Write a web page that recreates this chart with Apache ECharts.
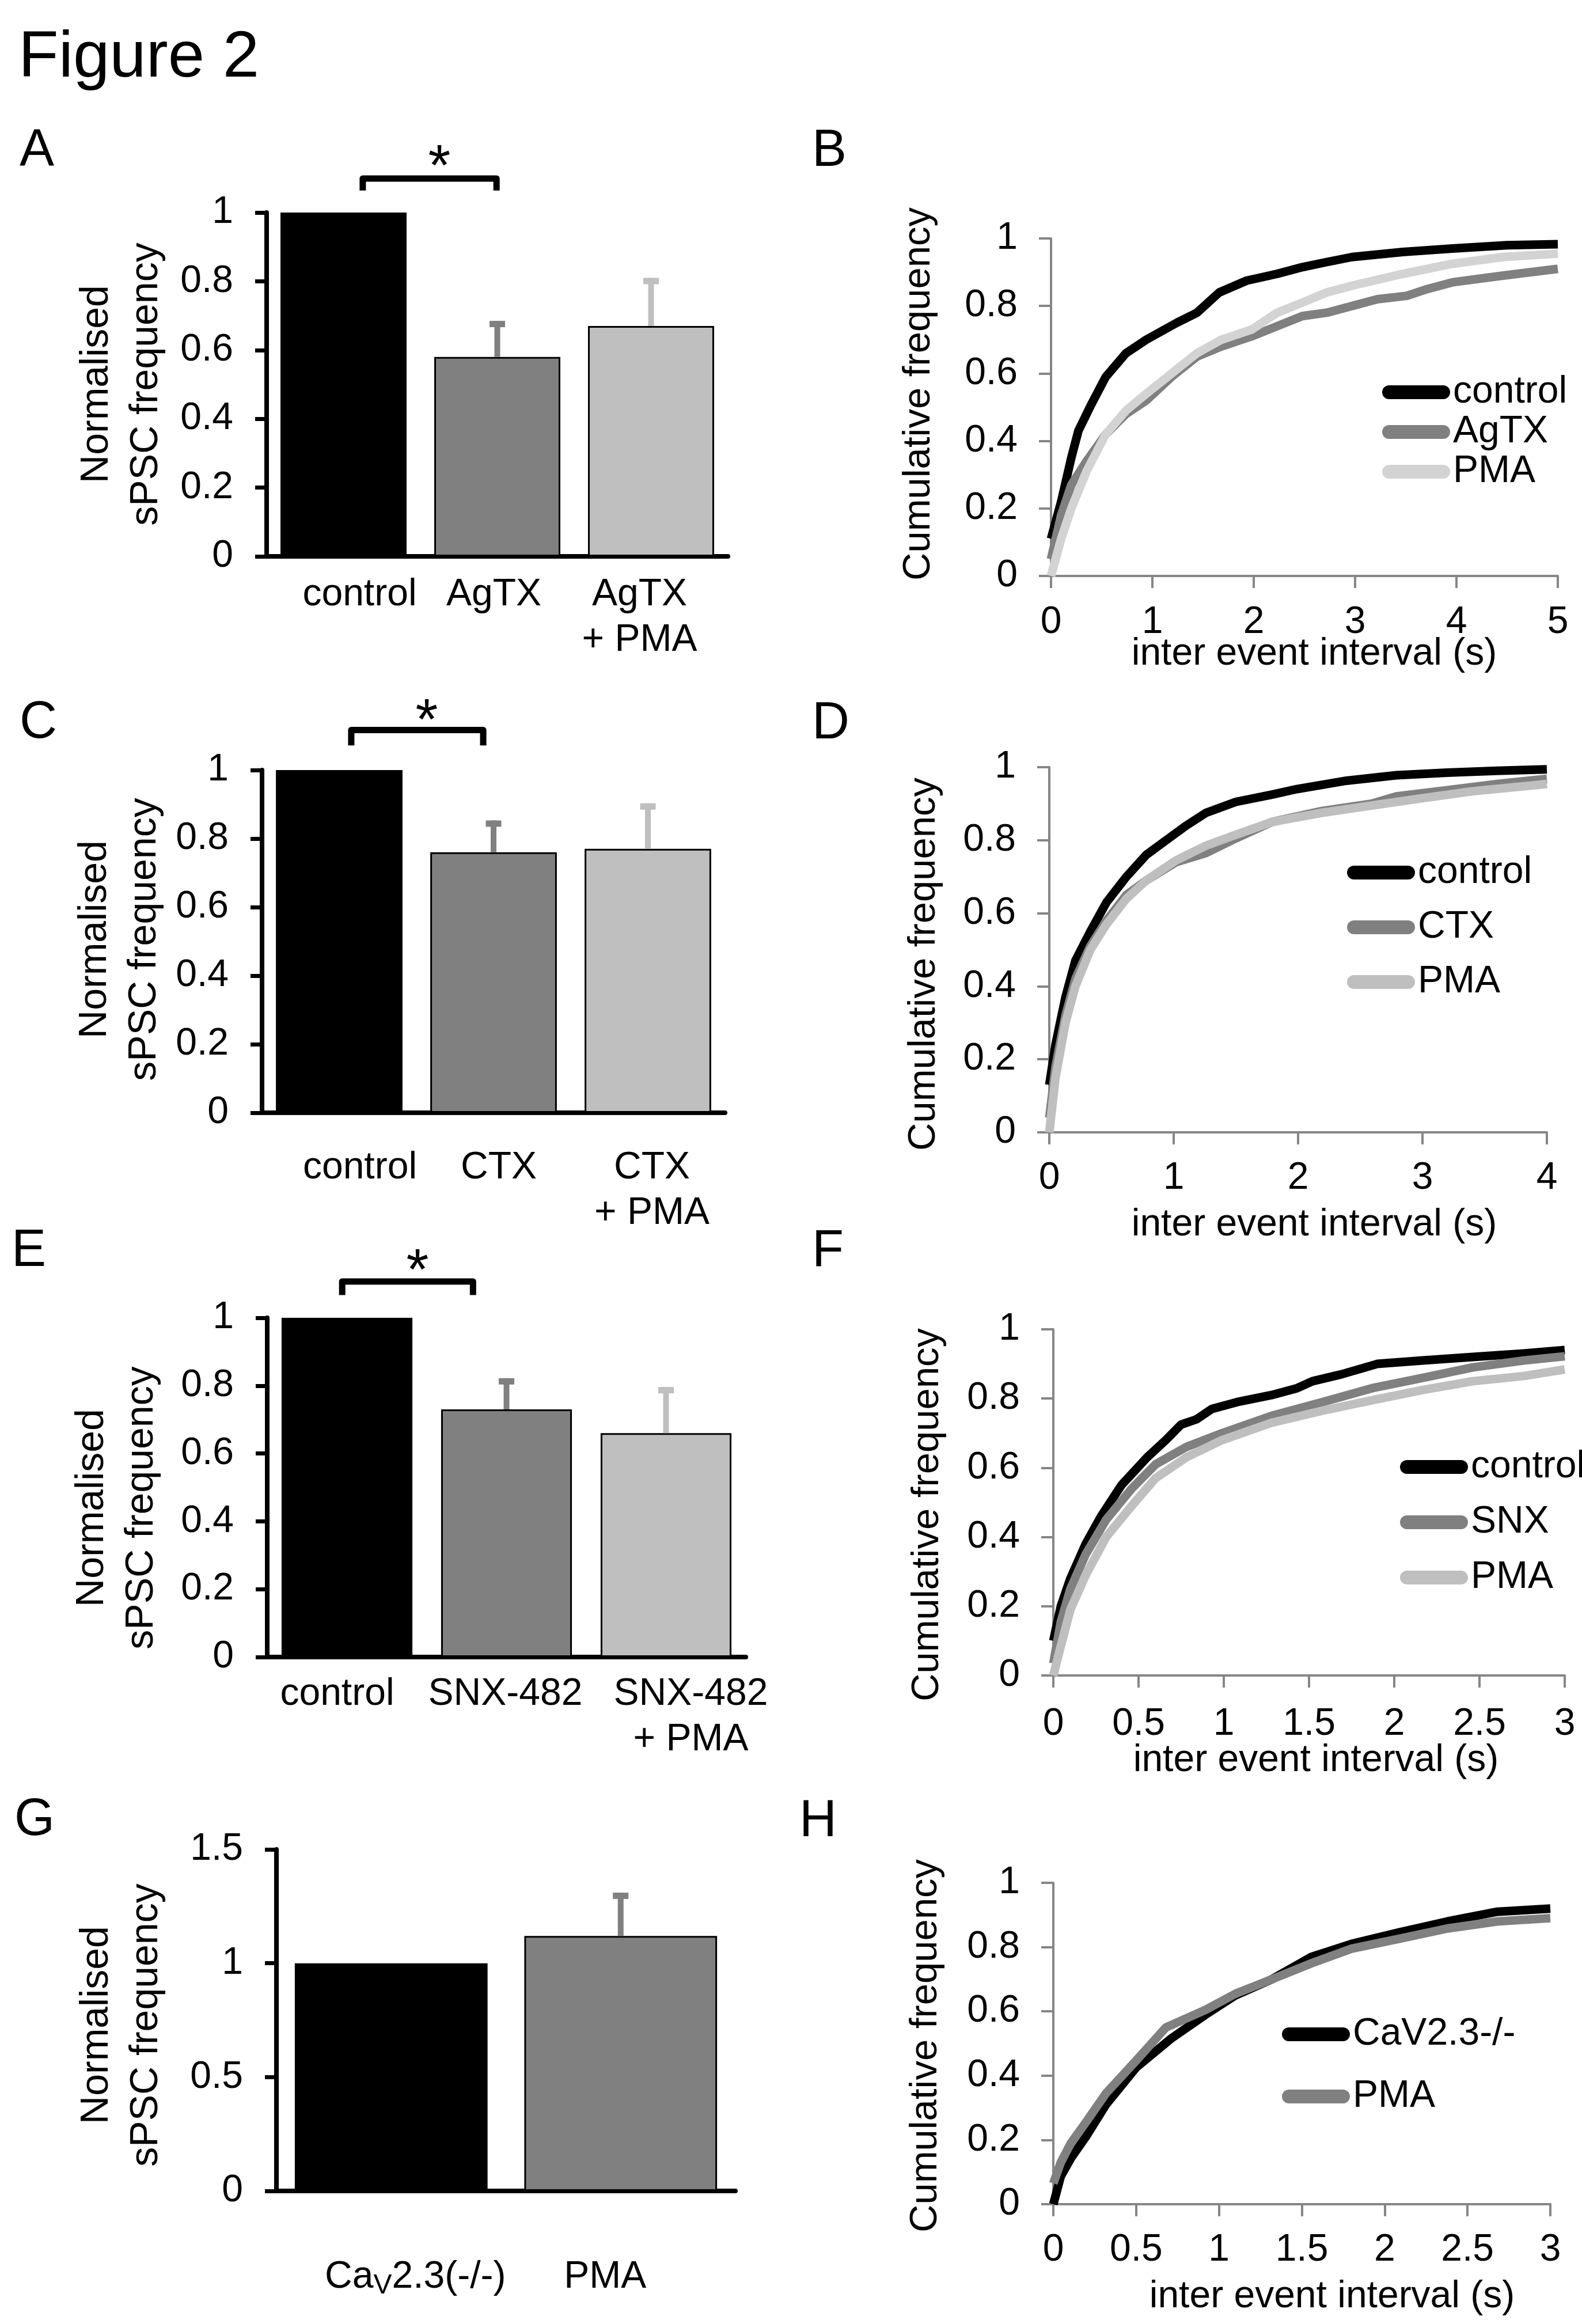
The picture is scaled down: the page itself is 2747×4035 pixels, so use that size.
<!DOCTYPE html>
<html>
<head>
<meta charset="utf-8">
<script src="https://cdn.jsdelivr.net/npm/echarts@6/dist/echarts.min.js"></script>
<style>
html,body{margin:0;padding:0;background:#fff;}
#chart{width:2747px;height:4035px;}
</style>
</head>
<body>
<div id="chart"></div>
<script>
// ================= DATA =================
// Bar panels (A, C, E, G)
const catsA = ['control', 'AgTX', 'AgTX\n+ PMA'];
const meansA = [1, 0.58, 0.67];
const errsA = [0, 0.105, 0.14];

const catsC = ['control', 'CTX', 'CTX\n+ PMA'];
const meansC = [1, 0.76, 0.77];
const errsC = [0, 0.093, 0.133];

const catsE = ['control', 'SNX-482', 'SNX-482\n+ PMA'];
const meansE = [1, 0.73, 0.66];
const errsE = [0, 0.092, 0.136];

const catsG = ['CaV2.3(-/-)', 'PMA'];
const meansG = [1, 1.12];
const errsG = [0, 0.19];

const barTicksY = [0, 0.2, 0.4, 0.6, 0.8, 1];
const barTicksYG = [0, 0.5, 1, 1.5];

// Cumulative panels (B, D, F, H)
const cumTicksY = [0, 0.2, 0.4, 0.6, 0.8, 1];
const ticksXB = [0, 1, 2, 3, 4, 5];
const ticksXD = [0, 1, 2, 3, 4];
const ticksXF = [0, 0.5, 1, 1.5, 2, 2.5, 3];
const ticksXH = [0, 0.5, 1, 1.5, 2, 2.5, 3];

const legendB = ['control', 'AgTX', 'PMA'];
const legendD = ['control', 'CTX', 'PMA'];
const legendF = ['control', 'SNX', 'PMA'];
const legendH = ['CaV2.3-/-', 'PMA'];

// B
const bControlX = [0, 0.1, 0.2, 0.27, 0.4, 0.54, 0.74, 0.94, 1.24, 1.44, 1.66, 1.93, 2.23, 2.48, 2.72, 2.97, 3.47, 3.96, 4.5, 5];
const bControlY = [0.11, 0.22, 0.35, 0.43, 0.51, 0.59, 0.66, 0.70, 0.75, 0.78, 0.84, 0.875, 0.895, 0.915, 0.93, 0.945, 0.96, 0.97, 0.98, 0.983];
const bAgtxX = [0, 0.1, 0.2, 0.35, 0.54, 0.74, 0.94, 1.19, 1.44, 1.68, 1.98, 2.23, 2.48, 2.72, 2.97, 3.22, 3.51, 3.71, 3.96, 4.46, 5];
const bAgtxY = [0.05, 0.18, 0.27, 0.34, 0.42, 0.48, 0.52, 0.59, 0.65, 0.68, 0.71, 0.74, 0.77, 0.78, 0.80, 0.82, 0.83, 0.85, 0.87, 0.89, 0.91];
const bPmaX = [0, 0.1, 0.2, 0.35, 0.54, 0.74, 0.94, 1.19, 1.44, 1.68, 1.98, 2.23, 2.48, 2.72, 2.97, 3.47, 3.96, 4.46, 5];
const bPmaY = [0.0, 0.11, 0.2, 0.31, 0.42, 0.49, 0.54, 0.60, 0.66, 0.70, 0.73, 0.78, 0.81, 0.84, 0.86, 0.895, 0.925, 0.945, 0.955];

// D
const dControlX = [0, 0.05, 0.13, 0.21, 0.33, 0.46, 0.62, 0.78, 0.94, 1.1, 1.26, 1.5, 1.79, 1.99, 2.39, 2.79, 3.2, 3.6, 4];
const dControlY = [0.13, 0.24, 0.37, 0.47, 0.55, 0.63, 0.70, 0.76, 0.80, 0.84, 0.875, 0.905, 0.925, 0.94, 0.963, 0.978, 0.985, 0.99, 0.994];
const dCtxX = [0, 0.05, 0.13, 0.21, 0.33, 0.46, 0.62, 0.78, 1.02, 1.26, 1.5, 1.79, 2.19, 2.59, 2.79, 3.2, 3.6, 4];
const dCtxY = [0.04, 0.18, 0.32, 0.42, 0.51, 0.58, 0.65, 0.69, 0.74, 0.765, 0.805, 0.85, 0.88, 0.90, 0.92, 0.937, 0.954, 0.968];
const dPmaX = [0, 0.05, 0.13, 0.21, 0.33, 0.46, 0.62, 0.78, 1.02, 1.26, 1.5, 1.79, 2.19, 2.59, 3.0, 3.4, 4];
const dPmaY = [0, 0.15, 0.30, 0.40, 0.50, 0.57, 0.64, 0.69, 0.745, 0.785, 0.815, 0.85, 0.875, 0.895, 0.915, 0.934, 0.954];

// F
const fControlX = [0, 0.044, 0.1, 0.19, 0.28, 0.4, 0.55, 0.66, 0.75, 0.84, 0.93, 1.08, 1.28, 1.43, 1.52, 1.69, 1.9, 2.17, 2.46, 2.76, 3];
const fControlY = [0.10, 0.20, 0.28, 0.38, 0.46, 0.55, 0.63, 0.68, 0.725, 0.74, 0.77, 0.79, 0.81, 0.83, 0.85, 0.87, 0.90, 0.91, 0.92, 0.93, 0.94];
const fSnxX = [0, 0.044, 0.1, 0.19, 0.31, 0.46, 0.6, 0.78, 0.99, 1.28, 1.58, 1.87, 2.17, 2.46, 2.76, 3];
const fSnxY = [0.035, 0.155, 0.25, 0.35, 0.45, 0.54, 0.61, 0.66, 0.70, 0.75, 0.79, 0.83, 0.86, 0.89, 0.91, 0.922];
const fPmaX = [0, 0.044, 0.1, 0.19, 0.31, 0.46, 0.6, 0.78, 0.99, 1.28, 1.58, 1.87, 2.17, 2.46, 2.76, 3];
const fPmaY = [0, 0.085, 0.19, 0.29, 0.40, 0.49, 0.57, 0.63, 0.68, 0.73, 0.765, 0.795, 0.825, 0.85, 0.865, 0.884];

// H
const hCavX = [0, 0.045, 0.106, 0.197, 0.318, 0.5, 0.71, 0.92, 1.1, 1.32, 1.56, 1.8, 2.08, 2.38, 2.68, 3];
const hCavY = [0.0, 0.087, 0.143, 0.21, 0.31, 0.425, 0.515, 0.59, 0.65, 0.70, 0.77, 0.81, 0.845, 0.88, 0.91, 0.92];
const hPmaX = [0, 0.045, 0.106, 0.197, 0.318, 0.5, 0.68, 0.92, 1.1, 1.32, 1.56, 1.8, 2.08, 2.38, 2.68, 3];
const hPmaY = [0.065, 0.13, 0.19, 0.255, 0.345, 0.447, 0.55, 0.605, 0.655, 0.70, 0.75, 0.795, 0.825, 0.858, 0.88, 0.89];

// ================= STYLE / LAYOUT =================
const FONT = "'Liberation Sans', Arial, Helvetica, sans-serif";
const GRAY_AXIS = '#868686';
const barColors3 = ['#000000', '#808080', '#BFBFBF'];
const barColors2 = ['#000000', '#808080'];
const CAPSULE = 'path://M12,0H106A12,12,0,0,1,106,24H12A12,12,0,0,1,12,0Z';
const CURVE_W = 15;

const grids = [
  {left: 463, top: 369, width: 801, height: 597},   // 0 A
  {left: 1825, top: 414, width: 880, height: 586},  // 1 B
  {left: 455, top: 1337, width: 804, height: 595},  // 2 C
  {left: 1822, top: 1332, width: 864, height: 634}, // 3 D
  {left: 464, top: 2288, width: 831, height: 589},  // 4 E
  {left: 1829, top: 2308, width: 888, height: 601}, // 5 F
  {left: 480, top: 3211, width: 797, height: 593},  // 6 G
  {left: 1829, top: 3269, width: 863, height: 558}  // 7 H
];

function zip(xs, ys) { return xs.map((x, i) => [x, ys[i]]); }

function barXAxis(gi, cats, margin, shifts) {
  const rich = {
    sub: {fontSize: 48, lineHeight: 48, fontFamily: FONT, color: '#000', verticalAlign: 'bottom'},
    n: {fontSize: 66, lineHeight: 79, fontFamily: FONT, color: '#000'}
  };
  cats.forEach((c, i) => {
    const s = shifts[i];
    rich['t' + i] = {fontSize: 66, lineHeight: 79, fontFamily: FONT, color: '#000',
      padding: s >= 0 ? [0, 0, 0, 2 * s] : [0, -2 * s, 0, 0]};
  });
  return {
    type: 'category', gridIndex: gi, data: cats,
    axisLine: {show: true, lineStyle: {color: '#000', width: 8}},
    axisTick: {show: false},
    splitLine: {show: false},
    axisLabel: {
      interval: 0, margin: margin, fontSize: 66, lineHeight: 79, fontFamily: FONT, color: '#000',
      formatter: function (v, i) {
        return v.split('\n').map(function (line) {
          if (line.indexOf('CaV') === 0) {
            return '{t' + i + '|Ca}{sub|V}{n|' + line.slice(3) + '}';
          }
          return '{t' + i + '|' + line + '}';
        }).join('\n');
      },
      rich: rich
    }
  };
}

function barYAxis(gi, ticks) {
  return {
    type: 'value', gridIndex: gi, min: ticks[0], max: ticks[ticks.length - 1], interval: ticks[1] - ticks[0],
    axisLine: {show: true, lineStyle: {color: '#000', width: 8}},
    axisTick: {show: true, length: 20, lineStyle: {color: '#000', width: 7}},
    splitLine: {show: false},
    axisLabel: {margin: 58, fontSize: 66, fontFamily: FONT, color: '#000'}
  };
}

function cumXAxis(gi, ticks, margin) {
  return {
    type: 'value', gridIndex: gi, min: ticks[0], max: ticks[ticks.length - 1], interval: ticks[1] - ticks[0],
    axisLine: {show: true, onZero: false, lineStyle: {color: GRAY_AXIS, width: 4}},
    axisTick: {show: true, length: 21, lineStyle: {color: GRAY_AXIS, width: 4}},
    splitLine: {show: false},
    axisLabel: {margin: margin, fontSize: 66, lineHeight: 66, fontFamily: FONT, color: '#000'}
  };
}

function cumYAxis(gi, ticks) {
  return {
    type: 'value', gridIndex: gi, min: ticks[0], max: ticks[ticks.length - 1], interval: ticks[1] - ticks[0],
    axisLine: {show: true, onZero: false, lineStyle: {color: GRAY_AXIS, width: 4}},
    axisTick: {show: true, length: 21, lineStyle: {color: GRAY_AXIS, width: 4}},
    splitLine: {show: false},
    axisLabel: {margin: 58, fontSize: 66, fontFamily: FONT, color: '#000'}
  };
}

function barSeries(gi, means, colors, width) {
  return {
    type: 'bar', xAxisIndex: gi, yAxisIndex: gi, barWidth: width, silent: true,
    itemStyle: {borderColor: '#000', borderWidth: 3},
    data: means.map((v, i) => ({value: v, itemStyle: {color: colors[i]}}))
  };
}

function errSeries(gi, means, errs, colors) {
  const data = [];
  means.forEach((m, i) => { if (errs[i] > 0) data.push([i, m, m + errs[i]]); });
  return {
    type: 'custom', xAxisIndex: gi, yAxisIndex: gi, data: data, z: 5, clip: false, silent: true,
    renderItem: function (params, api) {
      const i = api.value(0);
      const p0 = api.coord([i, api.value(1)]);
      const p1 = api.coord([i, api.value(2)]);
      const c = colors[i];
      return {type: 'group', children: [
        {type: 'rect', shape: {x: p0[0] - 5, y: p1[1], width: 10, height: p0[1] - p1[1]}, style: {fill: c}},
        {type: 'rect', shape: {x: p1[0] - 13.5, y: p1[1], width: 27, height: 11}, style: {fill: c}}
      ]};
    }
  };
}

function sigSeries(gi, spec) {
  return {
    type: 'custom', xAxisIndex: gi, yAxisIndex: gi, data: [[0, 1]], z: 5, clip: false, silent: true,
    renderItem: function (params, api) {
      const band = api.size([1, 0])[0];
      const a = api.coord([api.value(0), spec.yTop]);
      const b = api.coord([api.value(1), spec.yTop]);
      const leg = api.coord([api.value(0), spec.yLeg])[1];
      const st = api.coord([api.value(0), spec.yStar]);
      const xL = a[0] + spec.dL * band, xR = b[0] + spec.dR * band, yT = a[1];
      return {type: 'group', children: [
        {type: 'polyline', shape: {points: [[xL, leg], [xL, yT], [xR, yT], [xR, leg]]},
          style: {stroke: '#000', lineWidth: 11, fill: 'none', lineJoin: 'round'}},
        {type: 'text', x: st[0] + spec.starDx * band, y: st[1] + 0.225 * spec.starSize,
          style: {text: '*', fontSize: spec.starSize, fontFamily: FONT, fill: '#000',
            align: 'center', verticalAlign: 'middle', textAlign: 'center', textVerticalAlign: 'middle'}}
      ]};
    }
  };
}

function lineSeries(gi, name, xs, ys, color) {
  return {
    type: 'line', name: name, xAxisIndex: gi, yAxisIndex: gi, data: zip(xs, ys),
    showSymbol: false, symbol: 'none', silent: true, smooth: false,
    lineStyle: {color: color, width: CURVE_W, join: 'round'},
    itemStyle: {color: color}
  };
}

function makeLegend(prefix, names, left, top, gap) {
  return {
    orient: 'vertical', left: left, top: top, itemGap: gap, padding: 0,
    itemWidth: 118, itemHeight: 24, icon: CAPSULE, selectedMode: false,
    data: names.map(n => prefix + '|' + n),
    formatter: n => n.split('|')[1],
    textStyle: {fontSize: 66, lineHeight: 66, color: '#000', fontFamily: FONT}
  };
}

function txt(text, x, y, size, opts) {
  opts = opts || {};
  return {
    type: 'text', x: x, y: y, rotation: opts.rot || 0, silent: true,
    style: {
      text: text, fontSize: size, fontFamily: FONT, fill: '#000',
      align: opts.align || 'center', verticalAlign: 'middle',
      textAlign: opts.align || 'center', textVerticalAlign: 'middle',
      lineHeight: opts.lh || size
    }
  };
}

const R90 = Math.PI / 2;
const mid = (baseline, size) => baseline - 0.3465 * size;

const graphics = [
  txt('Figure 2', 32, mid(141, 114), 114, {align: 'left'}),
  txt('A', 34, mid(293, 90), 90, {align: 'left'}),
  txt('B', 1410, mid(294, 90), 90, {align: 'left'}),
  txt('C', 34, mid(1287, 90), 90, {align: 'left'}),
  txt('D', 1410, mid(1288, 90), 90, {align: 'left'}),
  txt('E', 20, mid(2204, 90), 90, {align: 'left'}),
  txt('F', 1410, mid(2204, 90), 90, {align: 'left'}),
  txt('G', 25, mid(3192, 90), 90, {align: 'left'}),
  txt('H', 1388, mid(3194, 90), 90, {align: 'left'}),
  // bar y titles
  txt('Normalised\nsPSC frequency', 211, 667, 68, {rot: R90, lh: 86}),
  txt('Normalised\nsPSC frequency', 208, 1631, 68, {rot: R90, lh: 86}),
  txt('Normalised\nsPSC frequency', 203, 2618, 68, {rot: R90, lh: 86}),
  txt('Normalised\nsPSC frequency', 211, 3516, 68, {rot: R90, lh: 86}),
  // cumulative y titles
  txt('Cumulative frequency', 1596, 684, 67, {rot: R90}),
  txt('Cumulative frequency', 1605, 1674, 67, {rot: R90}),
  txt('Cumulative frequency', 1611, 2630, 67, {rot: R90}),
  txt('Cumulative frequency', 1608, 3552, 67, {rot: R90}),
  // cumulative x titles
  txt('inter event interval (s)', 2282, mid(1159, 66), 66),
  txt('inter event interval (s)', 2282, mid(2150, 66), 66),
  txt('inter event interval (s)', 2285, mid(3080, 66), 66),
  txt('inter event interval (s)', 2313, mid(4011, 66), 66)
];

const option = {
  animation: false,
  backgroundColor: '#ffffff',
  textStyle: {fontFamily: FONT},
  grid: grids.map(g => Object.assign({containLabel: false}, g)),
  xAxis: [
    barXAxis(0, catsA, 27, [28, -6, -20]),
    cumXAxis(1, ticksXB, 48),
    barXAxis(2, catsC, 56, [36, 9, 7]),
    cumXAxis(3, ticksXD, 47),
    barXAxis(4, catsE, 25, [-17, -2, 43]),
    cumXAxis(5, ticksXF, 52),
    barXAxis(6, catsG, 110, [42, -27]),
    cumXAxis(7, ticksXH, 47)
  ],
  yAxis: [
    barYAxis(0, barTicksY),
    cumYAxis(1, cumTicksY),
    barYAxis(2, barTicksY),
    cumYAxis(3, cumTicksY),
    barYAxis(4, barTicksY),
    cumYAxis(5, cumTicksY),
    barYAxis(6, barTicksYG),
    cumYAxis(7, cumTicksY)
  ],
  legend: [
    makeLegend('B', legendB, 2400, 648, 3),
    makeLegend('D', legendD, 2339, 1482, 29),
    makeLegend('F', legendF, 2431, 2514, 30),
    makeLegend('H', legendH, 2226, 3499, 42)
  ],
  series: [
    // A
    barSeries(0, meansA, barColors3, '82%'),
    errSeries(0, meansA, errsA, barColors3),
    sigSeries(0, {dL: 0.125, dR: -0.005, yTop: 1.099, yLeg: 1.064, yStar: 1.164, starDx: 0.623, starSize: 100}),
    // C
    barSeries(2, meansC, barColors3, '82%'),
    errSeries(2, meansC, errsC, barColors3),
    sigSeries(2, {dL: 0.078, dR: -0.067, yTop: 1.117, yLeg: 1.072, yStar: 1.175, starDx: 0.567, starSize: 100}),
    // E
    barSeries(4, meansE, barColors3, '82%'),
    errSeries(4, meansE, errsE, barColors3),
    sigSeries(4, {dL: -0.03, dR: -0.21, yTop: 1.107, yLeg: 1.067, yStar: 1.17, starDx: 0.442, starSize: 100}),
    // G
    barSeries(6, meansG, barColors2, '84%'),
    errSeries(6, meansG, errsG, barColors2),
    // B
    lineSeries(1, 'B|control', bControlX, bControlY, '#000000'),
    lineSeries(1, 'B|AgTX', bAgtxX, bAgtxY, '#808080'),
    lineSeries(1, 'B|PMA', bPmaX, bPmaY, '#D3D3D3'),
    // D
    lineSeries(3, 'D|control', dControlX, dControlY, '#000000'),
    lineSeries(3, 'D|CTX', dCtxX, dCtxY, '#808080'),
    lineSeries(3, 'D|PMA', dPmaX, dPmaY, '#BFBFBF'),
    // F
    lineSeries(5, 'F|control', fControlX, fControlY, '#000000'),
    lineSeries(5, 'F|SNX', fSnxX, fSnxY, '#808080'),
    lineSeries(5, 'F|PMA', fPmaX, fPmaY, '#BFBFBF'),
    // H
    lineSeries(7, 'H|CaV2.3-/-', hCavX, hCavY, '#000000'),
    lineSeries(7, 'H|PMA', hPmaX, hPmaY, '#808080')
  ],
  graphic: graphics
};

const chart = echarts.init(document.getElementById('chart'), null, {renderer: 'canvas'});
chart.setOption(option);
</script>
</body>
</html>
